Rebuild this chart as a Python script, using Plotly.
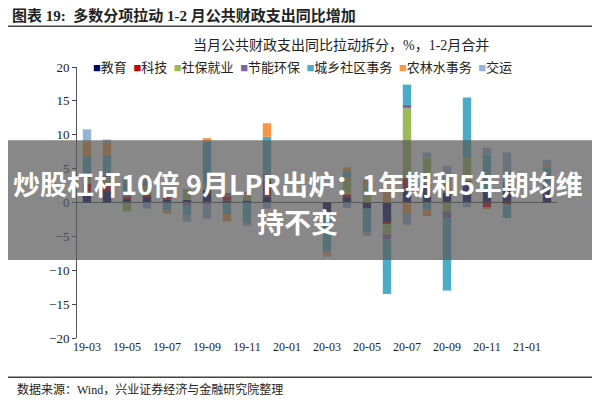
import plotly.graph_objects as go

months = ["19-03","19-04","19-05","19-06","19-07","19-08","19-09","19-10","19-11","19-12",
          "20-01","20-02","20-03","20-04","20-05","20-06","20-07","20-08","20-09","20-10",
          "20-11","20-12","21-01","21-02"]
tick_labels = ["19-03","19-05","19-07","19-09","19-11","20-01","20-03","20-05","20-07","20-09","20-11","21-01"]
N = None
edu   = [1.6,1.7,0.5,0.9,0.4,0.4,1.9,0.3,0.3,0.9, N,N,-1.5,0.8,-0.9,-3.0,2.0,2.4,1.5,2.5,2.0,1.7,N,2.0]
tech  = [1.2,1.2,0.3,0.2,0.5,0.0,0.0,0.6,0.0,2.3, N,N,0.0,0.4,0.0,-0.2,1.6,0.4,0.0,0.7,-0.7,-0.3,N,0.0]
social= [0.8,0.8,-1.3,1.5,0.2,1.6,0.8,0.0,0.7,0.0, N,N,0.0,2.6,2.4,-1.5,10.3,3.8,-1.3,3.4,0.0,0.0,N,0.0]
energy= [0.3,0.4,0.8,0.2,0.0,-0.5,-0.2,0.5,0.0,1.0, N,N,0.0,0.0,0.0,-0.7,0.5,0.0,-1.0,0.0,0.0,1.2,N,0.4]
urban = [2.9,2.9,1.7,0.5,-1.2,-1.2,6.3,-1.7,-3.0,5.5, N,N,-5.7,0.8,-3.5,-8.1,3.0,-1.0,-10.7,8.9,5.1,-2.0,N,2.7]
agri  = [2.2,1.9,0.5,0.5,-0.4,0.0,0.5,-1.1,0.6,2.0, N,N,-0.5,0.6,1.0,2.1,-1.7,-1.0,1.8,0.0,-0.2,0.0,N,0.3]
trans = [1.8,0.4,0.0,-0.9,0.0,-1.1,-2.2,0.0,-0.4,-0.9, N,N,-0.3,-0.8,-0.5,0.0,-1.6,0.8,2.1,-0.7,1.0,4.5,N,0.9]

series = [("教育",edu,"#000066"),("科技",tech,"#C00000"),("社保就业",social,"#9BBB59"),
          ("节能环保",energy,"#8064A2"),("城乡社区事务",urban,"#4BACC6"),
          ("农林水事务",agri,"#F79646"),("交运",trans,"#95B3D7")]

F = "Liberation Serif, Noto Sans CJK SC"
fig = go.Figure()
for name, vals, col in series:
    fig.add_bar(x=months, y=vals, name=name, marker_color=col, marker_line_width=0)

fig.update_layout(
    width=600, height=400, barmode="relative", bargap=0.58,
    margin=dict(l=69, r=51, t=59, b=70),
    plot_bgcolor="white", paper_bgcolor="white",
    font=dict(family=F, size=13, color="#222"),
    showlegend=False,
)
fig.update_xaxes(type="category", tickmode="array", tickvals=tick_labels, ticktext=tick_labels,
                 showline=False, ticks="", tickfont=dict(size=12), showgrid=False)
fig.update_yaxes(range=[-20, 20], dtick=5, showline=True, linecolor="#555", ticks="outside",
                 ticklen=4, showgrid=False, zeroline=True, zerolinecolor="#555", zerolinewidth=1,
                 tickfont=dict(size=13))
legend_html = "&nbsp;&nbsp;".join(
    f"<span style='color:{c}'>■</span>{n}" for n, _, c in series)
fig.add_annotation(text=legend_html, xref="paper", yref="paper", x=0.03, y=1.0,
                   xanchor="left", yanchor="middle", showarrow=False, font=dict(size=13, family=F))
fig.add_annotation(text="当月公共财政支出同比拉动拆分，%，1-2月合并", xref="paper", yref="paper",
                   x=0.55, y=1.08, xanchor="center", yanchor="middle", showarrow=False,
                   font=dict(size=14, family=F))
fig.add_annotation(text="<b>图表 19:  多数分项拉动 1-2 月公共财政支出同比增加</b>", xref="paper", yref="paper",
                   x=-0.14, y=1.19, xanchor="left", yanchor="middle", showarrow=False,
                   font=dict(size=15, family=F))
fig.add_annotation(text="数据来源：Wind，兴业证券经济与金融研究院整理", xref="paper", yref="paper",
                   x=-0.13, y=-0.19, xanchor="left", yanchor="middle", showarrow=False,
                   font=dict(size=12, family=F))
fig.add_shape(type="line", xref="paper", yref="paper", x0=-0.16, x1=1.1, y0=1.15, y1=1.15,
              line=dict(color="#444", width=1.5))
fig.add_shape(type="line", xref="paper", yref="paper", x0=-0.16, x1=1.1, y0=-0.145, y1=-0.145,
              line=dict(color="#444", width=1.5))
# overlay banner
fig.add_shape(type="rect", xref="paper", yref="paper", x0=-0.17, x1=1.12, y0=0.288, y1=0.73,
              fillcolor="rgba(90,90,90,0.72)", line_width=0, layer="above")
fig.add_annotation(text="<b>炒股杠杆10倍 9月LPR出炉：1年期和5年期均维</b>", xref="paper", yref="paper",
                   x=0.46, y=0.57, yanchor="middle", showarrow=False,
                   font=dict(size=27, color="white", family="Noto Sans CJK SC"))
fig.add_annotation(text="<b>持不变</b>", xref="paper", yref="paper",
                   x=0.46, y=0.43, yanchor="middle", showarrow=False,
                   font=dict(size=27, color="white", family="Noto Sans CJK SC"))
fig.write_html("out.html")
